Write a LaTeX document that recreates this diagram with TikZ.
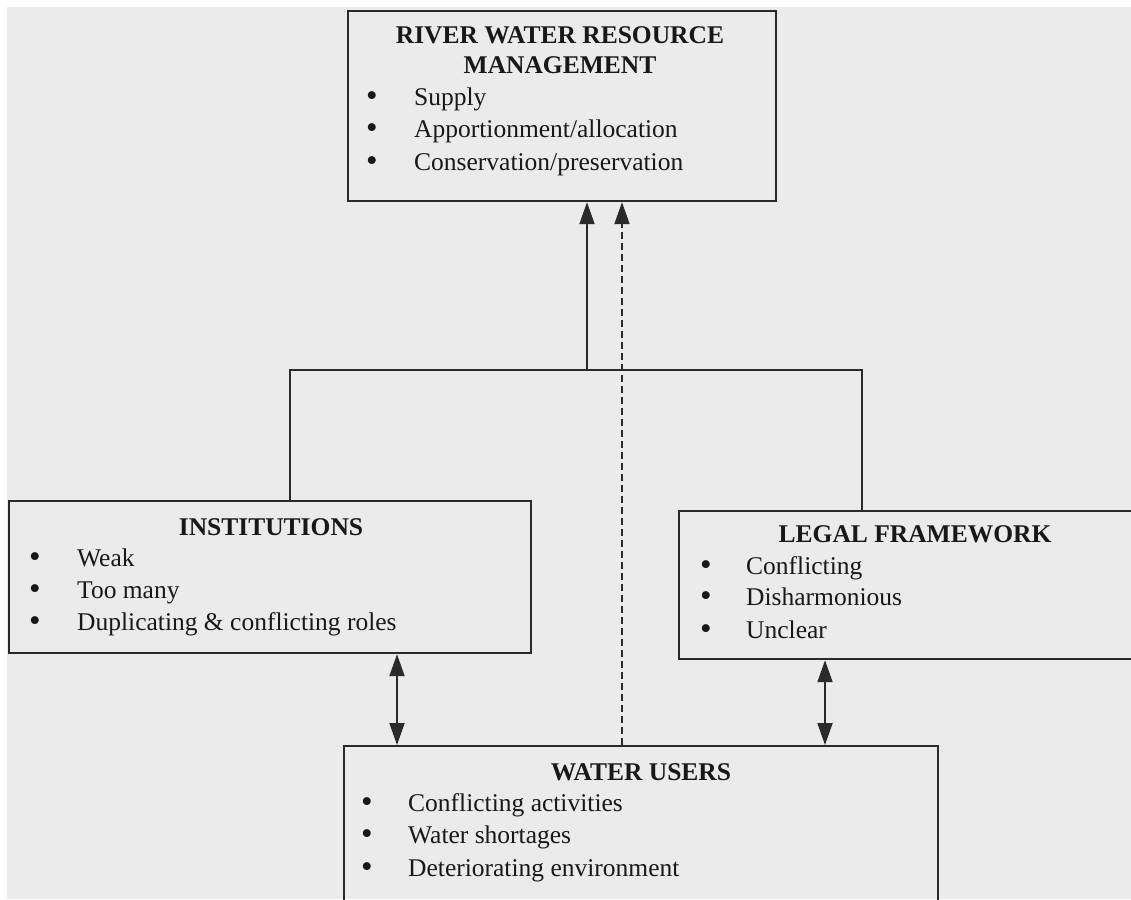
\documentclass[tikz,border=0pt]{standalone}
\usepackage{fontspec}
\setmainfont{Liberation Serif}
\usetikzlibrary{arrows.meta}
\definecolor{pagegray}{HTML}{EBEBEB}
\definecolor{ink}{HTML}{181818}
\definecolor{lineink}{HTML}{2A2A2A}
\tikzset{
  box/.style={draw=lineink, line width=2.2pt, rectangle, inner sep=0pt, anchor=north west},
  ttl/.style={font=\fontsize{25.5}{30}\selectfont\bfseries, text=ink, anchor=base, inner sep=0pt},
  itm/.style={font=\fontsize{25.5}{30}\selectfont, text=ink, anchor=base west, inner sep=0pt},
  bul/.style={font=\fontsize{33}{36}\selectfont, text=ink, anchor=base, inner sep=0pt, yshift=-1.5pt},
  conn/.style={draw=lineink, line width=1.9pt},
  tip/.style={-{Triangle[length=22pt,width=15pt]}},
  dtip/.style={{Triangle[length=22pt,width=15pt]}-{Triangle[length=22pt,width=15pt]}},
  dashline/.style={dash pattern=on 7pt off 4pt}
}
\begin{document}
\begin{tikzpicture}[x=1pt,y=-1pt]
\useasboundingbox (0,0) rectangle (1131,899);
\fill[white] (0,0) rectangle (1131,899);
\fill[pagegray] (7,7) rectangle (1131,899);

% boxes
\node[box, minimum width=428pt, minimum height=190pt] (rw) at (347,10) {};
\node[box, minimum width=522pt, minimum height=152pt] (inst) at (8,500) {};
\node[box, minimum width=470pt, minimum height=148pt] (legal) at (678,510) {};
\node[box, minimum width=594pt, minimum height=170pt] (wu) at (343,745) {};

% river water resource management
\node[ttl] (rwt1) at (560,44) {RIVER WATER RESOURCE};
\node[ttl] (rwt2) at (560,74) {MANAGEMENT};
\node[bul] (rwb1) at (372,105) {•};
\node[itm] (rwi1) at (414,105) {Supply};
\node[bul] (rwb2) at (372,137) {•};
\node[itm] (rwi2) at (414,137) {Apportionment/allocation};
\node[bul] (rwb3) at (372,170) {•};
\node[itm] (rwi3) at (414,170) {Conservation/preservation};

% institutions
\node[ttl] (it) at (271,535) {INSTITUTIONS};
\node[bul] (ib1) at (35,566) {•};
\node[itm] (ii1) at (77,566) {Weak};
\node[bul] (ib2) at (35,598) {•};
\node[itm] (ii2) at (77,598) {Too many};
\node[bul] (ib3) at (35,630) {•};
\node[itm] (ii3) at (77,630) {Duplicating \& conflicting roles};

% legal framework
\node[ttl] (lt) at (915,542) {LEGAL FRAMEWORK};
\node[bul] (lb1) at (706,574) {•};
\node[itm] (li1) at (746,574) {Conflicting};
\node[bul] (lb2) at (706,605) {•};
\node[itm] (li2) at (746,605) {Disharmonious};
\node[bul] (lb3) at (706,638) {•};
\node[itm] (li3) at (746,638) {Unclear};

% water users
\node[ttl] (wt) at (641,780) {WATER USERS};
\node[bul] (wb1) at (367,811) {•};
\node[itm] (wi1) at (408,811) {Conflicting activities};
\node[bul] (wb2) at (367,843) {•};
\node[itm] (wi2) at (408,843) {Water shortages};
\node[bul] (wb3) at (367,876) {•};
\node[itm] (wi3) at (408,876) {Deteriorating environment};

% connectors
\coordinate (jl) at (290,370);
\coordinate (jr) at (862,370);
\coordinate (jm) at (587,370);
\coordinate (dx) at (622,0);
\coordinate (ax) at (397,0);
\coordinate (bx) at (825,0);

\draw[conn] (jl |- inst.north) -- (jl) -- (jr) -- (jr |- legal.north);
\draw[conn, tip] (jm) -- (jm |- rw.south);
\draw[conn, tip, dashline] (dx |- wu.north) -- (dx |- rw.south);
\draw[conn, dtip] (ax |- inst.south) -- (ax |- wu.north);
\draw[conn, dtip] (bx |- legal.south) -- (bx |- wu.north);
\end{tikzpicture}
\end{document}
